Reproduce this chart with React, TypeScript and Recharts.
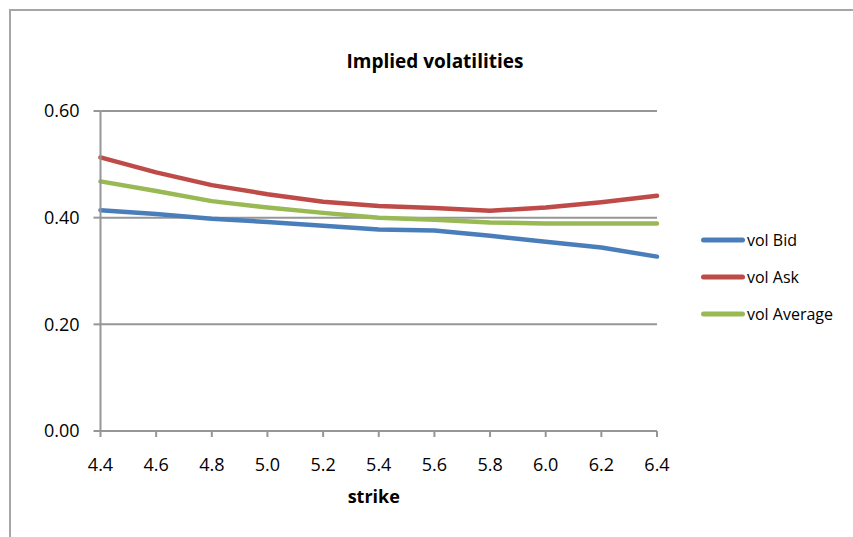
import React from 'react';
import { LineChart, Line, XAxis, YAxis, CartesianGrid, Legend } from 'recharts';

const strikes = [4.4, 4.6, 4.8, 5.0, 5.2, 5.4, 5.6, 5.8, 6.0, 6.2, 6.4];
const volBid = [0.414, 0.407, 0.398, 0.392, 0.385, 0.378, 0.376, 0.366, 0.355, 0.344, 0.327];
const volAsk = [0.513, 0.485, 0.461, 0.444, 0.43, 0.422, 0.418, 0.413, 0.419, 0.429, 0.441];
const volAverage = [0.468, 0.45, 0.431, 0.419, 0.409, 0.4, 0.396, 0.391, 0.389, 0.389, 0.389];
const yTicks = [0, 0.2, 0.4, 0.6];
const seriesKeys = ['bid', 'ask', 'avg'];
const seriesNames = ['vol Bid', 'vol Ask', 'vol Average'];
const seriesColors = ['#4A7EBB', '#BE4B48', '#98B954'];
const chartTitle = 'Implied volatilities';
const xAxisTitle = 'strike';

const data = strikes.map((s, i) => ({ strike: s, bid: volBid[i], ask: volAsk[i], avg: volAverage[i] }));

const FONT = "'Open Sans', sans-serif";
const GRID = '#969696';

const renderLegend = () => (
  <div style={{ fontFamily: FONT, fontSize: 16, color: '#000', textAlign: 'left' }}>
    {seriesNames.map((name, i) => (
      <div key={name} style={{ display: 'flex', alignItems: 'center', height: 36.7 }}>
        <svg width={46} height={8} style={{ display: 'block' }}>
          <line x1={4.5} y1={4} x2={43.5} y2={4} stroke={seriesColors[i]} strokeWidth={5} strokeLinecap="round" />
        </svg>
        <span style={{ marginLeft: 2, lineHeight: '20px' }}>{name}</span>
      </div>
    ))}
  </div>
);

export default function App() {
  return (
    <div style={{ position: 'fixed', left: 0, top: 0, width: 853, height: 537, overflow: 'hidden', background: '#fff' }}>
      <div style={{ position: 'absolute', left: 9, top: 9, width: 900, height: 600, border: '2px solid #a6a6a6' }} />
      <div
        style={{
          position: 'absolute',
          left: 235,
          width: 400,
          top: 52,
          textAlign: 'center',
          fontFamily: FONT,
          fontWeight: 700,
          fontSize: 19,
          lineHeight: '19px',
          color: '#000',
        }}
      >
        {chartTitle}
      </div>
      <div style={{ position: 'absolute', left: 0, top: 0 }}>
        <LineChart width={853} height={537} data={data} margin={{ top: 111, right: 196, bottom: 31, left: 0 }}>
          <CartesianGrid horizontal vertical={false} stroke={GRID} strokeWidth={2} />
          <XAxis
            dataKey="strike"
            type="number"
            domain={[4.4, 6.4]}
            ticks={strikes}
            interval={0}
            tickFormatter={(v: number) => v.toFixed(1)}
            height={75}
            tickSize={6}
            tickMargin={21}
            axisLine={{ stroke: GRID, strokeWidth: 2 }}
            tickLine={{ stroke: GRID, strokeWidth: 2 }}
            tick={{ fill: '#000', fontSize: 18, fontFamily: FONT }}
            label={{ value: xAxisTitle, position: 'insideBottom', offset: 3, dx: -5, fill: '#000', fontSize: 18, fontWeight: 700, fontFamily: FONT }}
          />
          <YAxis
            type="number"
            domain={[0, 0.6]}
            ticks={yTicks}
            interval={0}
            tickFormatter={(v: number) => v.toFixed(2)}
            width={100.5}
            tickSize={7}
            tickMargin={14}
            axisLine={{ stroke: GRID, strokeWidth: 2 }}
            tickLine={{ stroke: GRID, strokeWidth: 2 }}
            tick={{ fill: '#000', fontSize: 18, fontFamily: FONT }}
          />
          <Legend
            content={renderLegend}
            layout="vertical"
            verticalAlign="middle"
            align="center"
            width={150}
            wrapperStyle={{ left: 699, top: 222 }}
          />
          {seriesKeys.map((k, i) => (
            <Line
              key={k}
              dataKey={k}
              name={seriesNames[i]}
              type="linear"
              stroke={seriesColors[i]}
              strokeWidth={4.5}
              strokeLinecap="round"
              strokeLinejoin="round"
              dot={false}
              activeDot={false}
              isAnimationActive={false}
            />
          ))}
        </LineChart>
      </div>
    </div>
  );
}
